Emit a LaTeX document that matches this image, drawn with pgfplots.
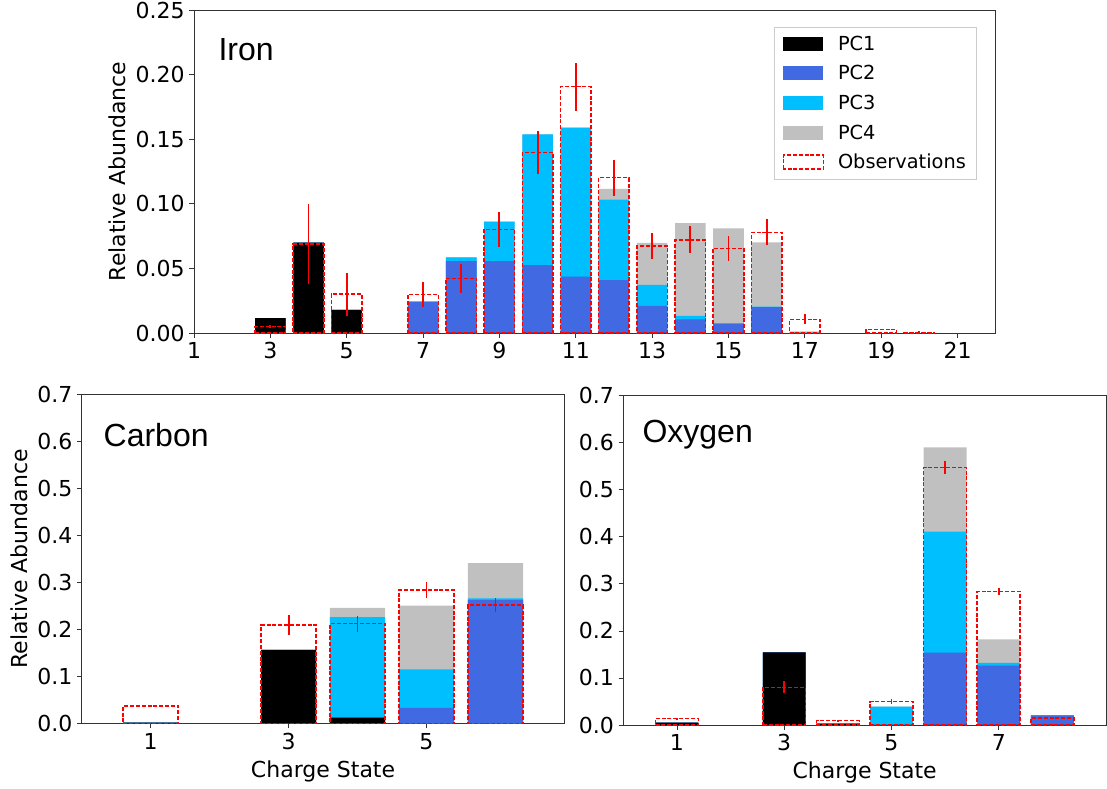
\documentclass[border=0pt]{standalone}
\usepackage{fontspec}
\setmainfont{DejaVu Sans}
\newfontfamily\arialf{Liberation Sans}
\usepackage{pgfplots}
\pgfplotsset{compat=1.18}
\usepackage{pgfplotstable}

\definecolor{pcblue}{HTML}{4169E1}
\definecolor{pccyan}{HTML}{00BFFF}
\definecolor{pcgray}{HTML}{C0C0C0}
\definecolor{obsred}{HTML}{FF0000}

% cumulative stack tops: c4 = PC1+PC2+PC3+PC4, c3 = PC1+PC2+PC3, c2 = PC1+PC2, c1 = PC1
\pgfplotstableread{
x  c4     c3     c2     c1
3  0.0116 0.0116 0.0116 0.0116
4  0.0700 0.0700 0.0700 0.0700
5  0.0178 0.0178 0.0178 0.0178
7  0.0243 0.0243 0.0243 0.0
8  0.0586 0.0586 0.0557 0.0
9  0.0862 0.0862 0.0557 0.0
10 0.1538 0.1538 0.0526 0.0
11 0.1589 0.1589 0.0436 0.0
12 0.1115 0.1032 0.0410 0.0
13 0.0697 0.0372 0.0209 0.0
14 0.0851 0.0132 0.0106 0.0
15 0.0810 0.0075 0.0072 0.0
16 0.0702 0.0204 0.0201 0.0
17 0.0013 0.0 0.0 0.0
}\ironbars
\pgfplotstableread{
x  obs    err
3  0.0049 0.0012
4  0.0690 0.0310
5  0.0300 0.0165
7  0.0297 0.0095
8  0.0423 0.0110
9  0.0802 0.0135
10 0.1396 0.0167
11 0.1907 0.0186
12 0.1202 0.0140
13 0.0673 0.0103
14 0.0722 0.0103
15 0.0655 0.0097
16 0.0779 0.0100
17 0.0106 0.0039
19 0.0028 0.0005
20 0.0005 0.0008
}\ironobs

\pgfplotstableread{
x c4     c3     c2     c1
1 0.0020 0.0020 0.0020 0.0020
3 0.1566 0.1566 0.1566 0.1566
4 0.2459 0.2267 0.0128 0.0128
5 0.2508 0.1156 0.0334 0.0
6 0.3415 0.2665 0.2629 0.0
}\carbonbars
\pgfplotstableread{
x obs    err
1 0.0380 0.0020
3 0.2097 0.0210
4 0.2126 0.0170
5 0.2840 0.0170
6 0.2522 0.0140
}\carbonobs

\pgfplotstableread{
x c4     c3     c2     c1
1 0.0050 0.0050 0.0050 0.0050
3 0.1545 0.1545 0.1545 0.1545
4 0.0030 0.0030 0.0030 0.0030
5 0.0390 0.0390 0.0    0.0
6 0.5900 0.4110 0.1537 0.0
7 0.1820 0.1320 0.1260 0.0
8 0.0206 0.0206 0.0206 0.0
}\oxygenbars
\pgfplotstableread{
x obs    err
1 0.0135 0.0010
3 0.0800 0.0125
4 0.0092 0.0015
5 0.0496 0.0050
6 0.5470 0.0140
7 0.2840 0.0080
8 0.0153 0.0010
}\oxygenobs

\pgfplotsset{
  panel/.style={
    scale only axis,
    ymin=0,
    axis line style={black!80, line width=0.6pt},
    tick align=outside,
    xtick pos=bottom, ytick pos=left,
    major tick length=3.5pt,
    tick style={black!80, line width=0.6pt},
    ticklabel style={font=\fontsize{16.5}{19}\selectfont},
    /pgf/number format/assume math mode=true,
    clip=false,
  },
  pcbar/.style={ybar, bar width=0.8, bar shift=0pt, draw=none, fill=#1, forget plot},
  obsbar/.style={ybar, bar width=0.8, bar shift=0pt, draw=obsred,
    dash pattern=on 3pt off 1.4pt, line width=1.2pt, fill=none, forget plot},
  errbar/.style={draw=none, mark=none, forget plot,
    error bars/.cd, y dir=both, y explicit, error mark=none,
    error bar style={draw=red, solid, line width=1.4pt}},
  pcpatch/.style={legend image code/.code={
    \path[fill=#1, draw=none] (0pt,-5.25pt) rectangle (30pt,5.25pt);
    \path[draw=none, fill=none] (30pt,0pt) -- (39.5pt,0pt);}},
  obspatch/.style={legend image code/.code={
    \path[draw=obsred, fill=none, dash pattern=on 3pt off 1.4pt, line width=1.2pt] (0pt,-5.25pt) rectangle (30pt,5.25pt);
    \path[draw=none, fill=none] (30pt,0pt) -- (39.5pt,0pt);}},
}

\begin{document}
\begin{tikzpicture}[x=1pt,y=1pt]
\useasboundingbox (0,0) rectangle (830.25,591.75);

% ---------------- Iron ----------------
\begin{axis}[panel,
  at={(145.5pt,342pt)}, anchor=south west,
  width=601.3pt, height=242.25pt,
  xmin=1, xmax=22, ymax=0.25,
  xtick={1,3,...,21},
  ytick={0,0.05,...,0.25},
  yticklabel style={/pgf/number format/.cd, fixed, fixed zerofill, precision=2},
  ylabel={Relative Abundance},
  every axis y label/.style={at={(axis description cs:-0.096,0.5)}, rotate=90, anchor=center, font=\fontsize{16.5}{19}\selectfont},
  legend style={at={(rel axis cs:0.9755,0.947)}, anchor=north east,
    draw=black!20, fill=white, font=\fontsize{14.5}{17}\selectfont,
    inner xsep=6pt, inner ysep=5pt, row sep=7.3pt,
    nodes={inner sep=1.5pt, text depth=0.2ex}},
  legend cell align=left,
]
\addlegendimage{pcpatch=black}\addlegendentry{PC1}
\addlegendimage{pcpatch=pcblue}\addlegendentry{PC2}
\addlegendimage{pcpatch=pccyan}\addlegendentry{PC3}
\addlegendimage{pcpatch=pcgray}\addlegendentry{PC4}
\addlegendimage{obspatch}\addlegendentry{Observations}
\addplot[pcbar=pcgray] table[x=x,y=c4] {\ironbars};
\addplot[pcbar=pccyan] table[x=x,y=c3] {\ironbars};
\addplot[pcbar=pcblue] table[x=x,y=c2] {\ironbars};
\addplot[pcbar=black]  table[x=x,y=c1] {\ironbars};
\addplot[obsbar] table[x=x,y=obs] {\ironobs};
\addplot[errbar] table[x=x,y=obs,y error=err] {\ironobs};
\node[anchor=base west, font=\arialf\fontsize{24}{28}\selectfont] at (axis cs:1.52,0.2108) {Iron};
\end{axis}

% ---------------- Carbon ----------------
\begin{axis}[panel,
  at={(61.3pt,49pt)}, anchor=south west,
  width=362pt, height=247pt,
  xmin=0, xmax=7, ymax=0.7,
  xtick={1,3,5},
  ytick={0,0.1,...,0.7},
  yticklabel style={/pgf/number format/.cd, fixed, fixed zerofill, precision=1},
  ylabel={Relative Abundance},
  xlabel={Charge State},
  every axis y label/.style={at={(axis description cs:-0.1303,0.5)}, rotate=90, anchor=center, font=\fontsize{16.5}{19}\selectfont},
  every axis x label/.style={at={(axis description cs:0.5,-0.144)}, anchor=center, font=\fontsize{16.5}{19}\selectfont},
]
\addplot[pcbar=pcgray] table[x=x,y=c4] {\carbonbars};
\addplot[pcbar=pccyan] table[x=x,y=c3] {\carbonbars};
\addplot[pcbar=pcblue] table[x=x,y=c2] {\carbonbars};
\addplot[pcbar=black]  table[x=x,y=c1] {\carbonbars};
\addplot[obsbar] table[x=x,y=obs] {\carbonobs};
\addplot[errbar] table[x=x,y=obs,y error=err] {\carbonobs};
\node[anchor=base west, font=\arialf\fontsize{24}{28}\selectfont] at (axis cs:0.25,0.589) {Carbon};
\end{axis}

% ---------------- Oxygen ----------------
\begin{axis}[panel,
  at={(467.5pt,48pt)}, anchor=south west,
  width=362pt, height=247pt,
  xmin=0, xmax=9, ymax=0.7,
  xtick={1,3,5,7},
  ytick={0,0.1,...,0.7},
  yticklabel style={/pgf/number format/.cd, fixed, fixed zerofill, precision=1},
  xlabel={Charge State},
  every axis x label/.style={at={(axis description cs:0.5,-0.144)}, anchor=center, font=\fontsize{16.5}{19}\selectfont},
]
\addplot[pcbar=pcgray] table[x=x,y=c4] {\oxygenbars};
\addplot[pcbar=pccyan] table[x=x,y=c3] {\oxygenbars};
\addplot[pcbar=pcblue] table[x=x,y=c2] {\oxygenbars};
\addplot[pcbar=black]  table[x=x,y=c1] {\oxygenbars};
\addplot[obsbar] table[x=x,y=obs] {\oxygenobs};
\addplot[errbar] table[x=x,y=obs,y error=err] {\oxygenobs};
\node[anchor=base west, font=\arialf\fontsize{24}{28}\selectfont] at (axis cs:0.27,0.5995) {Oxygen};
\end{axis}
\end{tikzpicture}
\end{document}
